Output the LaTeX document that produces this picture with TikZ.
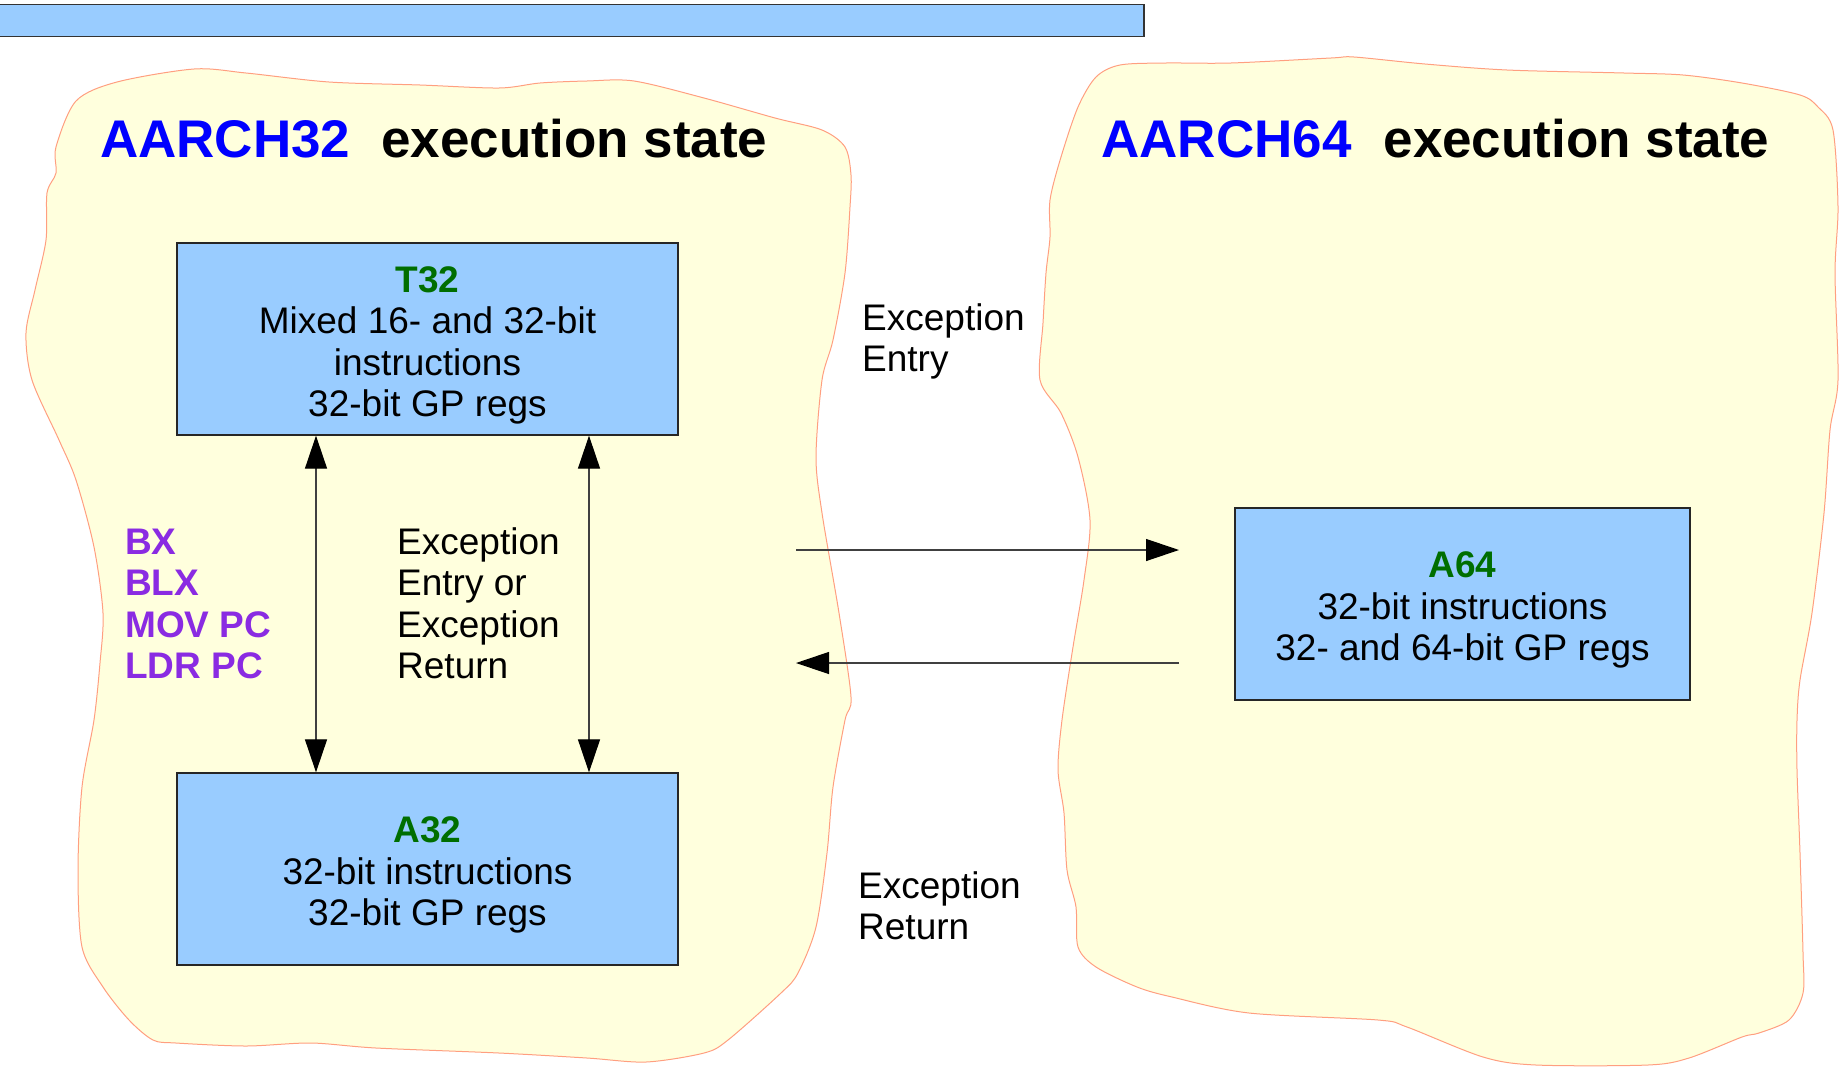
\documentclass[tikz,border=0pt]{standalone}
\usepackage{fontspec}
\setmainfont{Liberation Sans}
\usetikzlibrary{arrows.meta}
\definecolor{boxblue}{HTML}{99CCFF}
\definecolor{blobfill}{HTML}{FFFFDD}
\definecolor{blobline}{HTML}{FF9F80}
\definecolor{isagreen}{RGB}{0,110,0}
\definecolor{instpurple}{RGB}{138,43,226}
\definecolor{titleblue}{HTML}{0000FF}
\newcommand\diabody{\fontsize{37}{41.5}\selectfont}
\newcommand\diatitle{\fontsize{53}{60}\selectfont\bfseries}
\newcommand\boxstrut{\rule{0pt}{38.5pt}}
\begin{document}
\begin{tikzpicture}[x=1pt,y=-1pt,
  blob/.style={fill=blobfill,draw=blobline,line width=1pt},
  isabox/.style={draw=black!85,line width=1.3pt,fill=boxblue,minimum height=192pt,inner sep=0pt,align=center,font=\diabody},
  conn/.style={draw=black!75,line width=1.2pt},
  tip/.style={-{Triangle[length=33pt,width=22pt,color=black]}},
  biarrow/.style={{Triangle[length=33pt,width=22pt,color=black]}-{Triangle[length=33pt,width=22pt,color=black]}},
  lbl/.style={inner sep=0pt,align=left,font=\diabody},
  ttl/.style={inner sep=0pt,font=\diatitle}]
\useasboundingbox (0,0) rectangle (1841,1066);
% top bar
\draw[fill=boxblue,draw=black!80,line width=1.3pt] (-2,4.5) rectangle (1144,36.5);
% left blob
\path[blob] plot[smooth cycle,tension=0.5] coordinates {
(76,101) (117,82) (194,69) (246,73) (329,82) (420,85) (499,88) (540,83) (587,81) (634,81) (704,98) (775,118) (822,130) (845,147) (851,175) (850,207) (845,273) (833,340) (822,380) (816,457) (822,513) (839,613) (851,697) (845,720) (833,787) (827,853) (816,927) (798,973) (781,993) (728,1040) (704,1053) (646,1062) (587,1058) (499,1053) (376,1048) (311,1043) (246,1046) (176,1043) (153,1040) (129,1020) (103,987) (82,947) (78,870) (82,787) (94,720) (100,663) (103,613) (94,547) (76,480) (59,440) (32,380) (26,333) (35,290) (46,240) (47,193) (56,173) (56,147)};
% right blob
\path[blob] plot[smooth cycle,tension=0.5] coordinates {
(1096,77) (1120,65) (1166,63) (1231,63) (1331,58) (1354,57) (1425,64) (1507,70) (1624,73) (1683,75) (1742,83) (1800,95) (1818,107) (1833,130) (1838,207) (1835,273) (1838,380) (1830,430) (1824,513) (1812,613) (1800,680) (1797,720) (1797,770) (1800,853) (1803,953) (1803,993) (1789,1020) (1759,1033) (1742,1037) (1689,1058) (1648,1065) (1536,1065) (1483,1057) (1407,1027) (1378,1020) (1249,1013) (1172,997) (1137,987) (1096,967) (1078,947) (1076,907) (1067,870) (1064,813) (1058,770) (1062,720) (1073,647) (1084,580) (1090,520) (1078,457) (1061,413) (1040,380) (1043,323) (1046,273) (1050,237) (1050,200) (1061,157) (1078,107)};
% titles
\node[ttl,anchor=base west] (t32title) at (100,157) {\textcolor{titleblue}{AARCH32}\hspace{31pt}execution state};
\node[ttl,anchor=base west] (t64title) at (1101,157) {\textcolor{titleblue}{AARCH64}\hspace{32pt}execution state};
% boxes
\node[isabox,minimum width=501pt] (t32) at (427.5,339) {\boxstrut\textcolor{isagreen}{\bfseries T32}\\Mixed 16- and 32-bit\\instructions\\32-bit GP regs};
\node[isabox,minimum width=501pt] (a32) at (427.5,869) {\boxstrut\textcolor{isagreen}{\bfseries A32}\\32-bit instructions\\32-bit GP regs};
\node[isabox,minimum width=455pt] (a64) at (1462.5,604) {\boxstrut\textcolor{isagreen}{\bfseries A64}\\32-bit instructions\\32- and 64-bit GP regs};
% vertical arrows
\draw[conn,biarrow] ([xshift=-111.5pt]t32.south) -- ([xshift=-111.5pt]a32.north);
\draw[conn,biarrow] ([xshift=161.5pt]t32.south) -- ([xshift=161.5pt]a32.north);
% horizontal arrows
\coordinate (entryS) at (796,550);
\coordinate (entryT) at (1179,550);
\coordinate (retS) at (1179,663);
\coordinate (retT) at (796,663);
\draw[conn,tip] (entryS) -- (entryT);
\draw[conn,tip] (retS) -- (retT);
% labels (base anchor = baseline of last line)
\node[lbl,anchor=base west,text=instpurple,font=\diabody\bfseries] (instr) at (125,678.5) {BX\\BLX\\MOV PC\\LDR PC};
\node[lbl,anchor=base west] (excboth) at (397,678.5) {Exception\\Entry or\\Exception\\Return};
\node[lbl,anchor=base west] (excentry) at (862,371.5) {Exception\\Entry};
\node[lbl,anchor=base west] (excret) at (858,939.5) {Exception\\Return};
\end{tikzpicture}
\end{document}
